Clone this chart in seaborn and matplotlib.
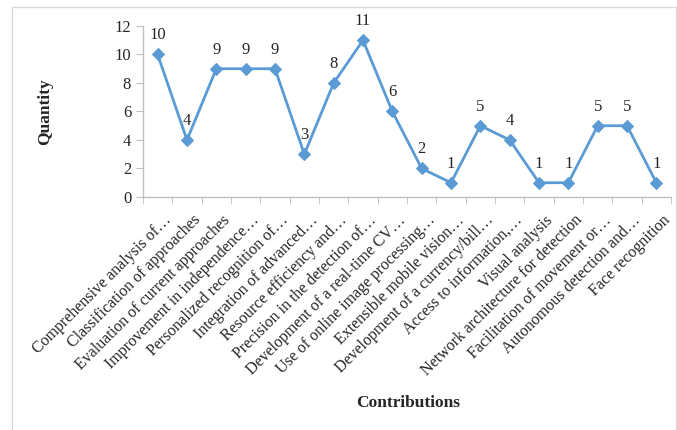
import matplotlib
matplotlib.use('Agg')
import matplotlib.pyplot as plt
import matplotlib.transforms as mtransforms
import seaborn as sns
import pandas as pd

contributions = [
    'Comprehensive analysis of…',
    'Classification of approaches',
    'Evaluation of current approaches',
    'Improvement in independence…',
    'Personalized recognition of…',
    'Integration of advanced…',
    'Resource efficiency and…',
    'Precision in the detection of…',
    'Development of a real-time CV…',
    'Use of online image processing…',
    'Extensible mobile vision…',
    'Development of a currency/bill…',
    'Access to information,…',
    'Visual analysis',
    'Network architecture for detection',
    'Facilitation of movement or…',
    'Autonomous detection and…',
    'Face recognition',
]
quantity = [10, 4, 9, 9, 9, 3, 8, 11, 6, 2, 1, 5, 4, 1, 1, 5, 5, 1]

df = pd.DataFrame({'Contributions': contributions, 'Quantity': quantity})
df['pos'] = range(len(df))

sns.set_style('white')
plt.rcParams['font.family'] = ['Liberation Serif', 'DejaVu Serif']

fig = plt.figure(figsize=(6.77, 4.30), dpi=100)
ax = fig.add_axes([0.2112, 0.5419, 0.780, 0.3977])

sns.lineplot(data=df, x='pos', y='Quantity', ax=ax, color='#5B9BD5',
             linewidth=2, marker='D', markersize=6, markeredgecolor='#5B9BD5')

for x, y in zip(df['pos'], df['Quantity']):
    ax.annotate(str(y), (x, y), xytext=(0, 8), textcoords='offset points',
                ha='center', va='bottom', fontsize=12)

n = len(df)
ax.set_xlim(-0.5, n - 0.5)
ax.set_ylim(0, 12)
ax.set_yticks(range(0, 13, 2))
ax.set_xticks(range(n))
ax.set_xticklabels(contributions, rotation=45, ha='right', rotation_mode='anchor', fontsize=11.5)
ax.set_xticks([i - 0.5 for i in range(n + 1)], minor=True)
ax.tick_params(axis='x', which='major', length=0, pad=11)
ax.tick_params(axis='x', which='minor', length=5, color='#BFBFBF', direction='out', bottom=True)
ax.tick_params(axis='y', length=5, color='#BFBFBF', direction='out', left=True, labelsize=12)

offset = mtransforms.ScaledTranslation(4 / 72, 0, fig.dpi_scale_trans)
for lbl in ax.get_xticklabels():
    lbl.set_transform(lbl.get_transform() + offset)

for side in ['top', 'right']:
    ax.spines[side].set_visible(False)
for side in ['left', 'bottom']:
    ax.spines[side].set_color('#BFBFBF')
    ax.spines[side].set_linewidth(1)

ax.set_xlabel('')
ax.set_ylabel('')
fig.text(0.066, 0.74, 'Quantity', rotation=90, ha='center', va='center',
         fontsize=12.5, fontweight='bold')
fig.text(0.603, 0.063, 'Contributions', ha='center', va='center',
         fontsize=12.5, fontweight='bold')

fig.patches.append(plt.Rectangle((12 / 677, -0.01), 664 / 677, 1 - 7 / 430 + 0.01,
                                 transform=fig.transFigure, fill=False,
                                 edgecolor='#D9D9D9', linewidth=1))

fig.savefig('out.png', dpi=100)
